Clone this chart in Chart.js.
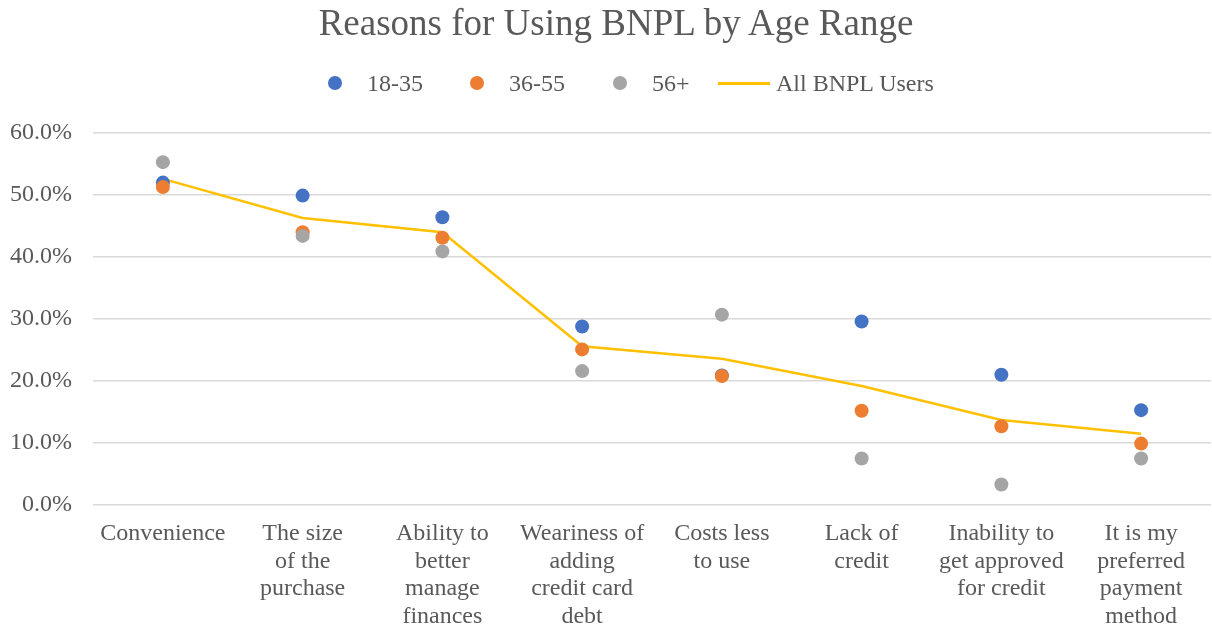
<!DOCTYPE html>
<html>
<head>
<meta charset="utf-8">
<script src="https://cdn.jsdelivr.net/npm/chart.js@4.4.0/dist/chart.umd.min.js"></script>
<style>
  body { margin: 0; background: #fff; }
  #wrap { position: relative; width: 1212px; height: 630px; }
  #title {
    position: absolute; left: 10px; top: 3px; width: 1212px; text-align: center;
    font-family: "Liberation Serif", serif; font-size: 37px; line-height: 40px; color: #595959;
  }
  #legend {
    position: absolute; left: 0; top: 69px; width: 1212px; height: 28px;
    font-family: "Liberation Serif", serif; font-size: 24px; color: #595959;
  }
  .item { position: absolute; top: 0; line-height: 28px; white-space: nowrap; }
  .dot { position: absolute; top: 7px; width: 14px; height: 14px; border-radius: 50%; }
  .line { position: absolute; top: 13px; width: 52px; height: 3px; background: #FFC000; }
</style>
</head>
<body>
<div id="wrap">
  <canvas id="chart" width="1212" height="630"></canvas>
  <div id="title">Reasons for Using BNPL by Age Range</div>
  <div id="legend"></div>
</div>
<script>
let categories = [
  "Convenience",
  ["The size", "of the", "purchase"],
  ["Ability to", "better", "manage", "finances"],
  ["Weariness of", "adding", "credit card", "debt"],
  ["Costs less", "to use"],
  ["Lack of", "credit"],
  ["Inability to", "get approved", "for credit"],
  ["It is my", "preferred", "payment", "method"]
];
let age18to35 = [52.0, 49.9, 46.4, 28.8, 20.9, 29.6, 21.0, 15.3];
let age36to55 = [51.3, 44.0, 43.1, 25.1, 20.8, 15.2, 12.7, 9.9];
let age56plus = [55.3, 43.4, 40.9, 21.6, 30.7, 7.5, 3.3, 7.5];
let allUsers  = [52.6, 46.3, 44.0, 25.6, 23.6, 19.2, 13.7, 11.5];
let yTicks = [0, 10, 20, 30, 40, 50, 60];

let blue = "#4472C4", orange = "#ED7D31", gray = "#A5A5A5", gold = "#FFC000";

// html legend (dots are small, line item is wider)
let legendItems = [
  { type: "dot", color: blue, text: "18-35", x: 328 },
  { type: "dot", color: orange, text: "36-55", x: 470 },
  { type: "dot", color: gray, text: "56+", x: 613 },
  { type: "line", color: gold, text: "All BNPL Users", x: 718 }
];
let legend = document.getElementById("legend");
legendItems.forEach(item => {
  let div = document.createElement("div");
  div.className = "item";
  div.style.left = item.x + "px";
  let mark = document.createElement("span");
  mark.className = item.type;
  mark.style.background = item.color;
  mark.style.left = "0px";
  div.appendChild(mark);
  let label = document.createElement("span");
  label.textContent = item.text;
  label.style.marginLeft = item.type === "dot" ? "39px" : "58px";
  div.appendChild(label);
  legend.appendChild(div);
});

function dotSet(label, data, color, order) {
  return {
    label: label,
    data: data,
    showLine: false,
    pointRadius: 7,
    pointHoverRadius: 7,
    pointBackgroundColor: color,
    pointBorderColor: color,
    pointBorderWidth: 0,
    order: order
  };
}

let ctx = document.getElementById("chart").getContext("2d");
new Chart(ctx, {
  type: "line",
  data: {
    labels: categories,
    datasets: [
      dotSet("18-35", age18to35, blue, 2),
      dotSet("36-55", age36to55, orange, 1),
      dotSet("56+", age56plus, gray, 0),
      {
        label: "All BNPL Users",
        data: allUsers,
        borderColor: gold,
        borderWidth: 2.5,
        pointRadius: 0,
        tension: 0,
        order: 3
      }
    ]
  },
  options: {
    responsive: false,
    animation: false,
    layout: { autoPadding: false, padding: { top: 133, right: 1, left: 0, bottom: 0 } },
    plugins: {
      legend: { display: false },
      title: { display: false },
      tooltip: { enabled: false }
    },
    scales: {
      x: {
        offset: true,
        grid: { display: false, drawTicks: false },
        border: { display: false },
        afterFit: s => { s.height = 125; s.paddingRight = 0; s.paddingLeft = 0; },
        ticks: {
          autoSkip: false,
          maxRotation: 0,
          padding: 15,
          color: "#595959",
          font: { family: "Liberation Serif", size: 24, lineHeight: 1.15 }
        }
      },
      y: {
        min: 0,
        max: 60,
        afterBuildTicks: axis => { axis.ticks = yTicks.map(v => ({ value: v })); },
        afterFit: s => { s.width = 93; },
        grid: { color: "#d9d9d9", lineWidth: 1.5, drawTicks: false },
        border: { display: false },
        ticks: {
          padding: 21,
          color: "#595959",
          font: { family: "Liberation Serif", size: 24 },
          callback: v => v.toFixed(1) + "%"
        }
      }
    }
  }
});
</script>
</body>
</html>
